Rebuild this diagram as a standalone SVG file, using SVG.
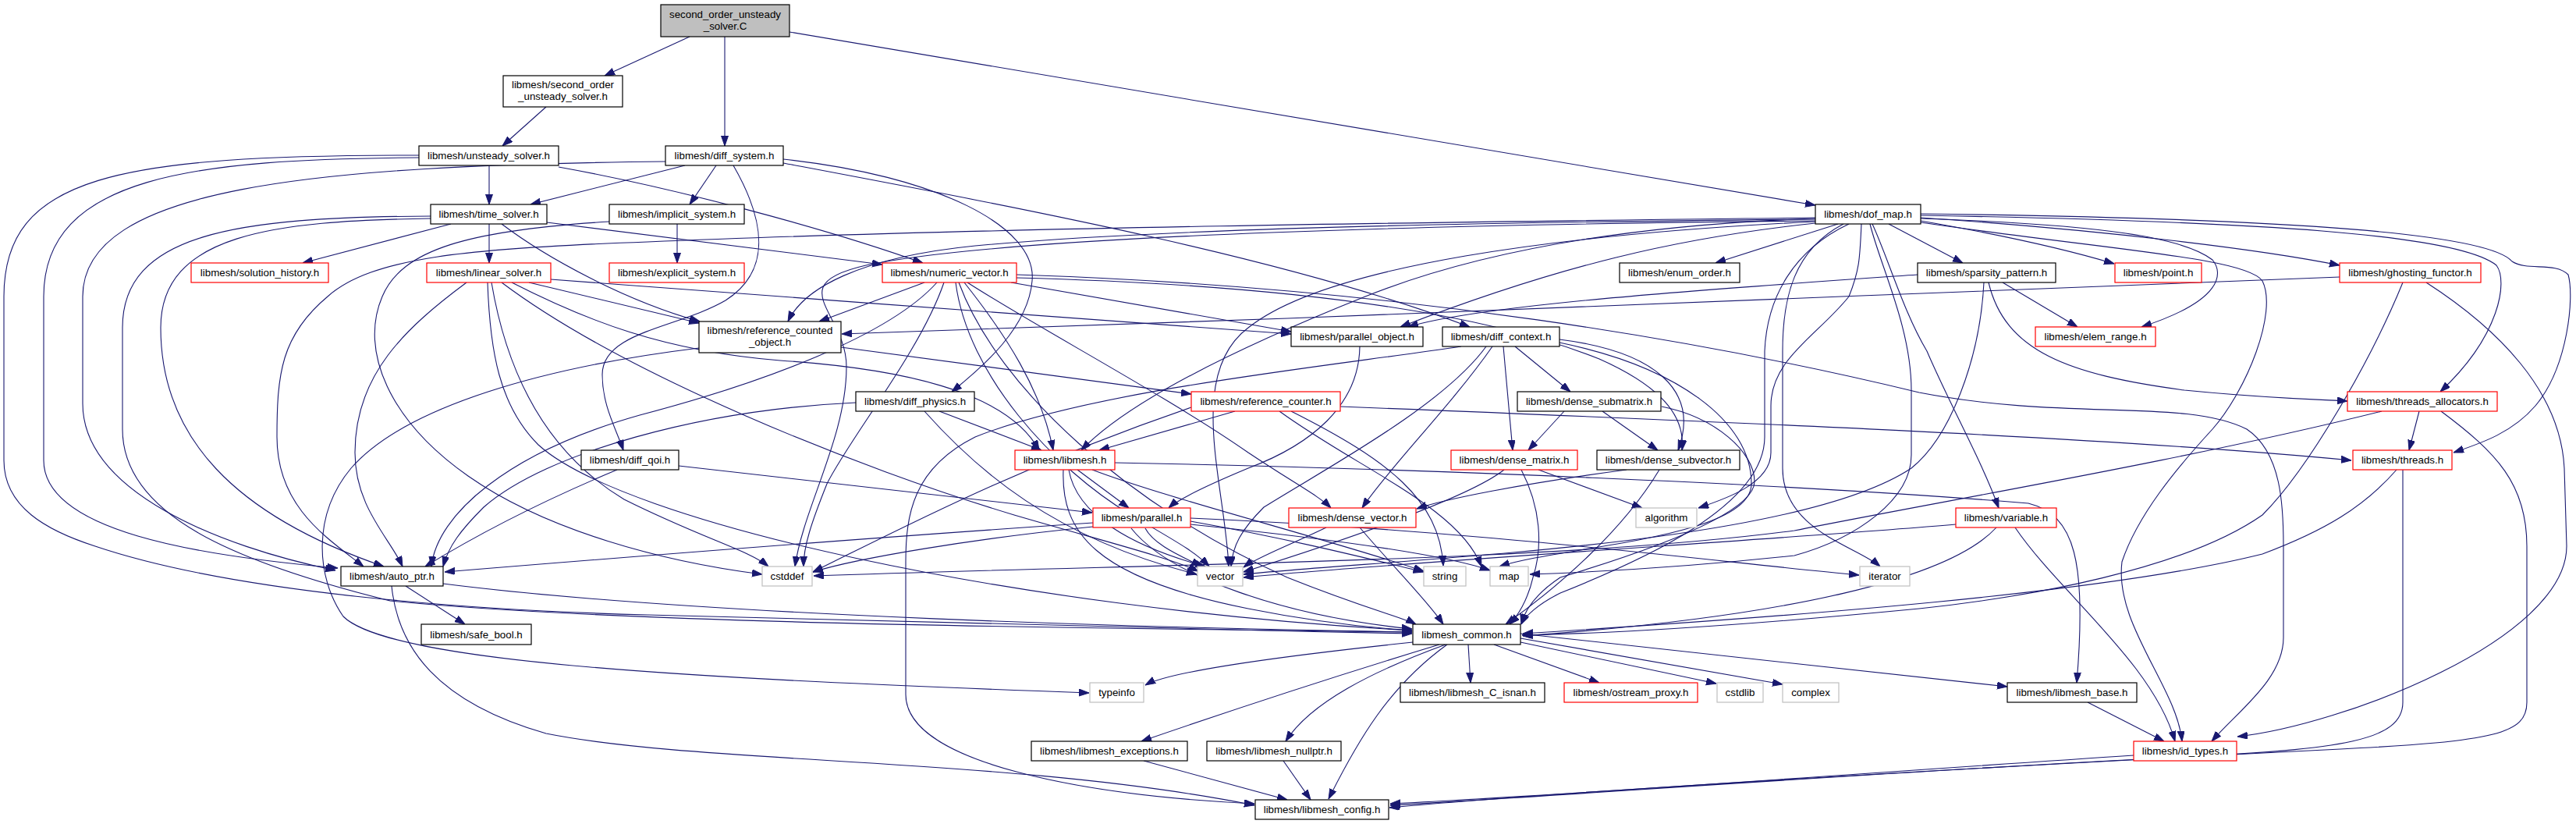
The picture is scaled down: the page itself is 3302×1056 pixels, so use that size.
<svg xmlns="http://www.w3.org/2000/svg" width="3302" height="1056" viewBox="0 0 3302 1056">
<style>
.n rect{fill:#fff;stroke:#000;stroke-width:1.2}
.r rect{stroke:#f00}
.g rect{stroke:#bfbfbf}
.root rect{fill:#bfbfbf}
text{font-family:"Liberation Sans",Arial,sans-serif;font-size:13.33px;text-anchor:middle;fill:#000}
.e path{fill:none;stroke:#191970;stroke-width:1.1;marker-end:url(#a)}
</style>
<defs>
<marker id="a" markerUnits="userSpaceOnUse" markerWidth="13" markerHeight="10" refX="13" refY="4.5" orient="auto">
<path d="M0,0 L13,4.5 L0,9 z" fill="#191970" stroke="#191970"/>
</marker>
</defs>
<rect width="3302" height="1056" fill="#fff"/>
<g class="e" id="edges">
<path d="M884,47 L775,97"/>
<path d="M929,47 L929,187"/>
<path d="M1012,41 L2327,263"/>
<path d="M700,137 L644,187"/>
<path d="M627,212 L627,262"/>
<path d="M716,214 C860,240 1050,290 1183,337"/>
<path d="M537,202 C250,204 56,225 56,380 L56,590 C56,680 250,712 433,728"/>
<path d="M537,199 C150,199 5,225 5,380 L5,590 C5,650 60,680 122,700 C300,760 600,782 830,788 C1200,800 1500,806 1810,812"/>
<path d="M853,207 C400,212 106,240 106,380 L106,517 C106,630 280,700 430,731"/>
<path d="M878,212 L680,262"/>
<path d="M918,212 L884,262"/>
<path d="M940,212 C985,290 985,350 930,385 C870,420 772,425 772,480 C772,520 790,550 799,577"/>
<path d="M1004,204 C1200,225 1330,290 1323,360 C1318,420 1260,470 1220,502"/>
<path d="M1004,209 C1300,265 1650,330 1884,419"/>
<path d="M578,287 L388,337"/>
<path d="M627,287 L627,337"/>
<path d="M701,285 L1131,339"/>
<path d="M643,287 C700,330 800,385 897,412"/>
<path d="M552,280 C350,283 206,300 206,420 C206,560 300,660 492,726"/>
<path d="M552,277 C300,278 157,300 157,420 L157,550 C157,660 300,720 500,770 C800,800 1400,805 1810,810"/>
<path d="M868,287 L868,337"/>
<path d="M781,284 C600,295 515,320 490,380 C460,450 500,540 600,610 C700,680 850,720 977,736"/>
<path d="M2356,287 L2199,337"/>
<path d="M2421,287 L2516,337"/>
<path d="M2462,283 C2560,300 2650,320 2710,338"/>
<path d="M2462,279 C2700,295 2900,320 2999,340"/>
<path d="M2462,280 C2700,288 2800,305 2836,333 C2850,350 2850,385 2745,419"/>
<path d="M2462,276 C2900,284 3150,300 3200,340 C3215,360 3205,430 3128,502"/>
<path d="M2462,274 C2950,280 3190,300 3220,335 C3240,348 3275,335 3292,352 C3300,380 3292,470 3250,520 C3220,555 3180,568 3145,580"/>
<path d="M2462,285 C2700,320 2880,330 2900,360 C2920,400 2880,500 2836,550 C2790,600 2740,660 2720,720 C2710,800 2790,880 2797,950"/>
<path d="M2400,287 C2420,330 2440,400 2470,450 C2500,520 2540,590 2562,651"/>
<path d="M2327,281 C1900,285 1500,292 1250,315 C1100,330 1030,370 1010,412"/>
<path d="M2327,286 C2150,305 2000,340 1795,419"/>
<path d="M2327,280 C2100,288 1900,320 1750,380 C1600,440 1450,510 1386,577"/>
<path d="M2327,279 C2000,283 1300,290 830,310 C600,318 476,330 420,380 C360,430 355,480 355,560 C355,650 420,690 466,726"/>
<path d="M2327,283 C1900,287 1300,300 1110,340 C1000,365 1085,400 1085,470 C1085,560 1030,650 1019,726"/>
<path d="M2397,287 C2410,340 2450,420 2450,500 L2450,583 C2450,640 2380,690 2300,712 C2150,728 2050,733 1961,736"/>
<path d="M2386,287 C2384,330 2384,345 2370,380 C2330,430 2270,460 2270,520 L2270,580 C2270,620 2210,640 2177,651"/>
<path d="M2363,287 C2300,320 2285,380 2285,450 L2285,600 C2285,680 2380,700 2410,726"/>
<path d="M2327,284 C2000,300 1700,340 1600,420 C1520,480 1570,620 1575,726"/>
<path d="M2370,287 C2300,320 2265,380 2262,450 L2262,560 C2262,650 2100,720 2000,760 C1970,775 1955,790 1950,800"/>
<path d="M598,362 C520,420 455,480 455,580 C455,650 500,690 516,726"/>
<path d="M625,362 C628,450 640,520 690,570 C800,670 1300,780 1810,808"/>
<path d="M630,362 C650,480 700,580 800,640 C900,690 960,705 985,726"/>
<path d="M643,362 C800,480 1100,600 1300,660 C1420,695 1500,715 1536,732"/>
<path d="M678,362 L896,414"/>
<path d="M656,362 C750,410 850,450 1000,462 C1150,472 1290,500 1332,577"/>
<path d="M706,358 C1000,380 1400,410 1655,428"/>
<path d="M1185,362 L1050,412"/>
<path d="M1236,362 C1290,430 1335,500 1350,577"/>
<path d="M1296,362 L1655,425"/>
<path d="M1303,352 C1800,368 2200,440 2460,503 C2650,540 2800,510 2880,550 C2925,580 2927,650 2927,700 L2927,817 C2927,870 2870,910 2835,950"/>
<path d="M1303,356 C1650,365 1900,400 2050,460 C2140,500 2160,540 2156,577"/>
<path d="M1240,362 C1330,420 1500,510 1600,580 C1660,620 1690,635 1706,651"/>
<path d="M1210,362 C1180,450 1090,560 1060,620 C1040,670 1030,700 1030,726"/>
<path d="M1225,362 C1240,480 1350,600 1450,660 C1500,690 1530,705 1550,726"/>
<path d="M1201,362 C1140,430 980,490 820,532 C650,580 560,660 553,726"/>
<path d="M1229,362 C1280,500 1450,650 1650,740 C1750,780 1800,792 1815,800"/>
<path d="M2567,362 L2663,419"/>
<path d="M2549,362 C2570,450 2650,480 2800,500 C2900,510 2970,512 3009,514"/>
<path d="M2458,352 C2200,370 1900,390 1805,419"/>
<path d="M2543,362 C2538,460 2500,560 2450,600 C2300,700 1800,715 1594,736"/>
<path d="M2999,355 C2600,370 2000,395 1650,408 C1400,416 1200,422 1079,428"/>
<path d="M3110,362 C3200,420 3282,500 3287,600 L3290,700 C3290,820 3000,930 2868,944"/>
<path d="M3080,362 C3040,460 2960,600 2900,660 C2800,730 2600,765 2460,780 C2200,805 2050,812 1951,814"/>
<path d="M1078,445 L1527,505"/>
<path d="M896,446 C700,470 520,520 450,600 C400,660 405,740 440,790 C500,850 900,870 1396,888"/>
<path d="M1743,444 C1742,520 1680,570 1600,600 C1540,625 1510,640 1498,651"/>
<path d="M1927,444 L1939,577"/>
<path d="M1942,444 L2013,502"/>
<path d="M1999,435 C2120,450 2180,500 2151,577"/>
<path d="M1913,444 C1860,520 1780,600 1746,651"/>
<path d="M1999,439 C2150,470 2245,540 2245,620 C2245,690 2000,700 1922,726"/>
<path d="M1873,444 C1700,470 1400,500 1250,560 C1170,600 1161,660 1161,720 L1161,890 C1161,980 1400,1020 1608,1030"/>
<path d="M1905,444 C1850,520 1700,600 1620,650 C1590,680 1580,700 1578,726"/>
<path d="M1204,527 L1335,577"/>
<path d="M1185,527 C1250,600 1350,690 1534,736"/>
<path d="M1097,516 C900,525 700,580 620,650 C590,680 575,700 568,726"/>
<path d="M1583,527 L1409,577"/>
<path d="M1718,521 C2200,540 2700,560 3014,590"/>
<path d="M1655,527 C1780,590 1845,640 1850,725"/>
<path d="M1640,527 C1740,600 1870,650 1899,726"/>
<path d="M1527,522 C1300,600 1150,680 1042,733"/>
<path d="M2005,527 L1959,577"/>
<path d="M2054,527 L2125,577"/>
<path d="M2130,521 C2200,535 2249,580 2249,617 C2249,660 2100,710 2000,740 C1970,760 1955,780 1950,800"/>
<path d="M3101,527 L3088,577"/>
<path d="M3129,527 C3200,580 3239,620 3239,700 L3239,900 C3239,940 3200,950 3000,960 C2500,985 2000,1015 1781,1035"/>
<path d="M3053,527 C2800,590 2500,640 2300,680 C2000,720 1500,722 1043,738"/>
<path d="M870,597 L1400,657"/>
<path d="M791,602 C700,640 620,680 545,726"/>
<path d="M1381,602 L1447,651"/>
<path d="M1363,602 C1360,680 1400,740 1600,780 C1700,800 1780,806 1810,808"/>
<path d="M1370,602 C1380,660 1450,700 1545,726"/>
<path d="M1429,593 C1800,600 2300,620 2600,645 C2660,660 2675,720 2662,875"/>
<path d="M1400,602 C1500,640 1700,690 1825,732"/>
<path d="M1972,602 L2105,651"/>
<path d="M1928,602 C1880,640 1700,700 1594,733"/>
<path d="M1950,602 C1975,650 1978,700 1965,740 C1958,770 1945,790 1935,800"/>
<path d="M2085,602 C1950,620 1850,640 1816,652"/>
<path d="M2127,602 C2080,680 2000,750 1930,800"/>
<path d="M3080,602 L3080,900 C3080,950 3000,960 2800,970 C2400,990 2000,1020 1782,1032"/>
<path d="M3072,602 C3030,650 2980,680 2900,710 C2700,760 2300,790 1952,812"/>
<path d="M1401,670 C1100,690 850,710 570,733"/>
<path d="M1401,675 C1250,690 1100,715 1042,733"/>
<path d="M1468,677 C1480,700 1520,715 1540,726"/>
<path d="M1526,668 C1650,690 1750,715 1825,733"/>
<path d="M1526,672 C1700,690 1850,710 1910,731"/>
<path d="M1526,664 C1900,680 2200,720 2383,737"/>
<path d="M1450,677 C1500,740 1650,790 1810,806"/>
<path d="M1700,676 C1650,700 1610,715 1594,727"/>
<path d="M1743,676 C1780,720 1830,770 1850,800"/>
<path d="M2583,676 C2640,760 2760,850 2788,950"/>
<path d="M2559,676 C2500,740 2300,790 1952,815"/>
<path d="M2507,672 C2300,690 1800,720 1594,740"/>
<path d="M520,751 L596,800"/>
<path d="M568,748 C900,790 1500,805 1810,810"/>
<path d="M502,751 C510,830 560,900 700,940 C900,980 1300,970 1608,1032"/>
<path d="M1811,823 C1650,840 1500,860 1468,878"/>
<path d="M1845,826 C1700,870 1550,920 1463,950"/>
<path d="M1853,826 C1760,860 1680,900 1648,950"/>
<path d="M1855,826 C1780,880 1740,950 1703,1024"/>
<path d="M1882,826 L1885,875"/>
<path d="M1915,826 L2050,875"/>
<path d="M1949,823 L2200,876"/>
<path d="M1949,818 L2285,877"/>
<path d="M1949,812 C2200,840 2450,865 2573,880"/>
<path d="M2676,900 L2774,950"/>
<path d="M1466,975 L1650,1025"/>
<path d="M1645,975 L1680,1025"/>
<path d="M2735,968 C2400,990 2000,1020 1782,1030"/>
</g>
<g id="n1" class="n root"><rect x="847" y="6" width="165" height="41"/><text x="929.5" y="23">second_order_unsteady</text><text x="929.5" y="38">_solver.C</text></g>
<g id="n2" class="n"><rect x="645" y="97" width="153" height="40"/><text x="721.5" y="113">libmesh/second_order</text><text x="721.5" y="128">_unsteady_solver.h</text></g>
<g id="n3" class="n"><rect x="537" y="187" width="179" height="25"/><text x="626.5" y="204">libmesh/unsteady_solver.h</text></g>
<g id="n4" class="n"><rect x="853" y="187" width="151" height="25"/><text x="928.5" y="204">libmesh/diff_system.h</text></g>
<g id="n5" class="n"><rect x="552" y="262" width="149" height="25"/><text x="626.5" y="279">libmesh/time_solver.h</text></g>
<g id="n6" class="n"><rect x="781" y="262" width="173" height="25"/><text x="867.5" y="279">libmesh/implicit_system.h</text></g>
<g id="n7" class="n"><rect x="2327" y="262" width="135" height="25"/><text x="2394.5" y="279">libmesh/dof_map.h</text></g>
<g id="n8" class="n r"><rect x="245" y="337" width="176" height="25"/><text x="333" y="354">libmesh/solution_history.h</text></g>
<g id="n9" class="n r"><rect x="547" y="337" width="159" height="25"/><text x="626.5" y="354">libmesh/linear_solver.h</text></g>
<g id="n10" class="n r"><rect x="781" y="337" width="173" height="25"/><text x="867.5" y="354">libmesh/explicit_system.h</text></g>
<g id="n11" class="n r"><rect x="1131" y="337" width="172" height="25"/><text x="1217" y="354">libmesh/numeric_vector.h</text></g>
<g id="n12" class="n"><rect x="2076" y="337" width="154" height="25"/><text x="2153" y="354">libmesh/enum_order.h</text></g>
<g id="n13" class="n"><rect x="2458" y="337" width="177" height="25"/><text x="2546.5" y="354">libmesh/sparsity_pattern.h</text></g>
<g id="n14" class="n r"><rect x="2711" y="337" width="111" height="25"/><text x="2766.5" y="354">libmesh/point.h</text></g>
<g id="n15" class="n r"><rect x="2999" y="337" width="181" height="25"/><text x="3089.5" y="354">libmesh/ghosting_functor.h</text></g>
<g id="n16" class="n"><rect x="896" y="412" width="182" height="40"/><text x="987" y="428">libmesh/reference_counted</text><text x="987" y="443">_object.h</text></g>
<g id="n17" class="n"><rect x="1655" y="419" width="169" height="25"/><text x="1739.5" y="436">libmesh/parallel_object.h</text></g>
<g id="n18" class="n"><rect x="1849" y="419" width="150" height="25"/><text x="1924" y="436">libmesh/diff_context.h</text></g>
<g id="n19" class="n r"><rect x="2609" y="419" width="154" height="25"/><text x="2686" y="436">libmesh/elem_range.h</text></g>
<g id="n20" class="n"><rect x="1097" y="502" width="152" height="25"/><text x="1173" y="519">libmesh/diff_physics.h</text></g>
<g id="n21" class="n r"><rect x="1527" y="502" width="191" height="25"/><text x="1622.5" y="519">libmesh/reference_counter.h</text></g>
<g id="n22" class="n"><rect x="1945" y="502" width="184" height="25"/><text x="2037" y="519">libmesh/dense_submatrix.h</text></g>
<g id="n23" class="n r"><rect x="3009" y="502" width="192" height="25"/><text x="3105" y="519">libmesh/threads_allocators.h</text></g>
<g id="n24" class="n"><rect x="745" y="577" width="125" height="25"/><text x="807.5" y="594">libmesh/diff_qoi.h</text></g>
<g id="n25" class="n r"><rect x="1301" y="577" width="128" height="25"/><text x="1365" y="594">libmesh/libmesh.h</text></g>
<g id="n26" class="n r"><rect x="1860" y="577" width="162" height="25"/><text x="1941" y="594">libmesh/dense_matrix.h</text></g>
<g id="n27" class="n"><rect x="2047" y="577" width="183" height="25"/><text x="2138.5" y="594">libmesh/dense_subvector.h</text></g>
<g id="n28" class="n r"><rect x="3016" y="577" width="127" height="25"/><text x="3079.5" y="594">libmesh/threads.h</text></g>
<g id="n29" class="n r"><rect x="1401" y="651" width="125" height="25"/><text x="1463.5" y="668">libmesh/parallel.h</text></g>
<g id="n30" class="n r"><rect x="1652" y="651" width="163" height="25"/><text x="1733.5" y="668">libmesh/dense_vector.h</text></g>
<g id="n31" class="n g"><rect x="2097" y="651" width="78" height="25"/><text x="2136" y="668">algorithm</text></g>
<g id="n32" class="n r"><rect x="2507" y="651" width="129" height="25"/><text x="2571.5" y="668">libmesh/variable.h</text></g>
<g id="n33" class="n"><rect x="437" y="726" width="131" height="25"/><text x="502.5" y="743">libmesh/auto_ptr.h</text></g>
<g id="n34" class="n g"><rect x="977" y="726" width="64" height="25"/><text x="1009" y="743">cstddef</text></g>
<g id="n35" class="n g"><rect x="1535" y="726" width="58" height="25"/><text x="1564" y="743">vector</text></g>
<g id="n36" class="n g"><rect x="1825" y="726" width="54" height="25"/><text x="1852" y="743">string</text></g>
<g id="n37" class="n g"><rect x="1910" y="726" width="49" height="25"/><text x="1934.5" y="743">map</text></g>
<g id="n38" class="n g"><rect x="2384" y="726" width="64" height="25"/><text x="2416" y="743">iterator</text></g>
<g id="n39" class="n"><rect x="540" y="800" width="141" height="26"/><text x="610.5" y="818">libmesh/safe_bool.h</text></g>
<g id="n40" class="n"><rect x="1811" y="800" width="138" height="26"/><text x="1880" y="818">libmesh_common.h</text></g>
<g id="n41" class="n g"><rect x="1397" y="875" width="69" height="25"/><text x="1431.5" y="892">typeinfo</text></g>
<g id="n42" class="n"><rect x="1795" y="875" width="185" height="25"/><text x="1887.5" y="892">libmesh/libmesh_C_isnan.h</text></g>
<g id="n43" class="n r"><rect x="2005" y="875" width="171" height="25"/><text x="2090.5" y="892">libmesh/ostream_proxy.h</text></g>
<g id="n44" class="n g"><rect x="2201" y="875" width="59" height="25"/><text x="2230.5" y="892">cstdlib</text></g>
<g id="n45" class="n g"><rect x="2285" y="875" width="72" height="25"/><text x="2321" y="892">complex</text></g>
<g id="n46" class="n"><rect x="2573" y="875" width="166" height="25"/><text x="2656" y="892">libmesh/libmesh_base.h</text></g>
<g id="n47" class="n"><rect x="1322" y="950" width="200" height="25"/><text x="1422" y="967">libmesh/libmesh_exceptions.h</text></g>
<g id="n48" class="n"><rect x="1547" y="950" width="172" height="25"/><text x="1633" y="967">libmesh/libmesh_nullptr.h</text></g>
<g id="n49" class="n r"><rect x="2735" y="950" width="132" height="25"/><text x="2801" y="967">libmesh/id_types.h</text></g>
<g id="n50" class="n"><rect x="1609" y="1025" width="171" height="25"/><text x="1694.5" y="1042">libmesh/libmesh_config.h</text></g>
</svg>
